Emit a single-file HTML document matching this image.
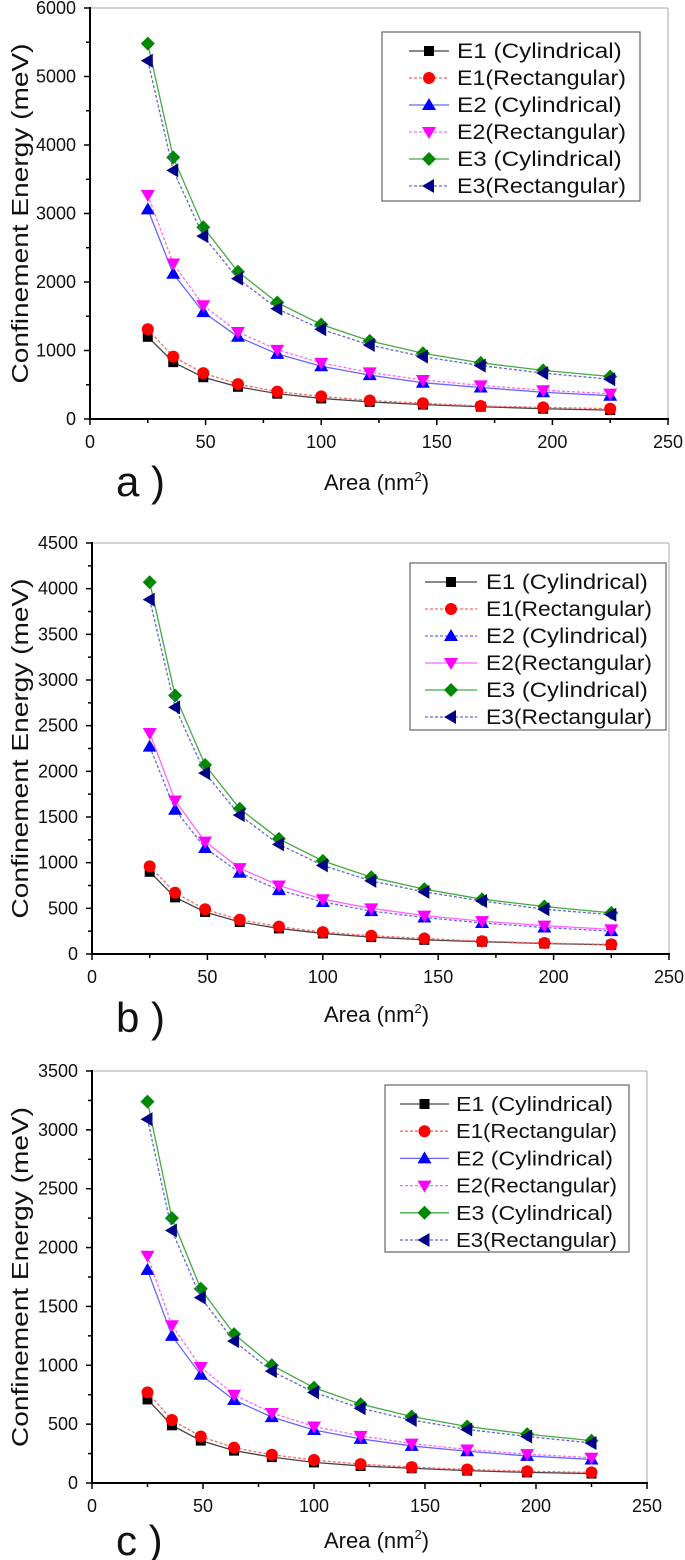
<!DOCTYPE html>
<html><head><meta charset="utf-8">
<style>
html,body{margin:0;padding:0;background:#fff;}
svg{display:block;font-family:"Liberation Sans",Arial,sans-serif;}
</style></head>
<body>
<svg id="fig" width="685" height="1560" viewBox="0 0 685 1560" xmlns="http://www.w3.org/2000/svg"></svg>
<script>
const areas = [25,36,49,64,81,100,121,144,169,196,225];
const seriesNames = ["E1 (Cylindrical)","E1(Rectangular)","E2 (Cylindrical)","E2(Rectangular)","E3 (Cylindrical)","E3(Rectangular)"];
const xTicks = [0,50,100,150,200,250];
// Panel a
const aE1Cyl = [1200,830,610,470,370,300,250,210,180,150,130];
const aE1Rect = [1310,910,670,510,400,330,270,230,190,170,150];
const aE2Cyl = [3060,2120,1560,1200,950,770,640,530,460,390,340];
const aE2Rect = [3270,2270,1660,1270,1010,820,680,570,490,420,370];
const aE3Cyl = [5480,3820,2800,2150,1700,1380,1140,960,820,710,620];
const aE3Rect = [5230,3630,2670,2050,1610,1310,1080,910,780,670,580];
const aYTicks = [0,1000,2000,3000,4000,5000,6000];
// Panel b
const bE1Cyl = [900,620,460,350,280,225,185,155,135,115,100];
const bE1Rect = [960,670,490,375,300,240,200,170,140,120,105];
const bE2Cyl = [2270,1580,1160,890,700,570,470,400,340,290,250];
const bE2Rect = [2420,1680,1230,940,750,600,500,420,360,310,270];
const bE3Cyl = [4070,2830,2070,1590,1260,1020,840,710,600,520,450];
const bE3Rect = [3880,2700,1980,1520,1200,970,800,680,580,490,430];
const bYTicks = [0,500,1000,1500,2000,2500,3000,3500,4000,4500];
// Panel c
const cE1Cyl = [710,490,360,275,220,175,145,125,105,90,80];
const cE1Rect = [770,535,395,300,240,195,160,135,115,100,90];
const cE2Cyl = [1810,1250,920,705,560,450,375,315,270,230,200];
const cE2Rect = [1930,1340,985,750,595,480,400,335,285,245,215];
const cE3Cyl = [3240,2250,1650,1265,1000,810,670,565,480,415,360];
const cE3Rect = [3090,2145,1575,1205,950,770,635,535,455,395,340];
const cYTicks = [0,500,1000,1500,2000,2500,3000,3500];

const NS="http://www.w3.org/2000/svg";
const svg=document.getElementById('fig');
function el(tag,attrs,parent){const e=document.createElementNS(NS,tag);for(const k in attrs)e.setAttribute(k,attrs[k]);(parent||svg).appendChild(e);return e;}

const colors=["#000","#f00","#00f","#f0f","#080","#008"];
const lineCols=["#444","#f66","#66f","#f6f","#4a4","#66c"];

function marker(g,type,cx,cy,col){
  let m;
  if(type===0) m=el('rect',{x:cx-5,y:cy-5,width:10,height:10,fill:col},g);
  else if(type===1) m=el('circle',{cx:cx,cy:cy,r:6,fill:col},g);
  else if(type===2) m=el('polygon',{points:`${cx},${cy-7} ${cx+7},${cy+5} ${cx-7},${cy+5}`,fill:col},g);
  else if(type===3) m=el('polygon',{points:`${cx},${cy+7} ${cx+7},${cy-5} ${cx-7},${cy-5}`,fill:col},g);
  else if(type===4) m=el('polygon',{points:`${cx},${cy-7} ${cx+7},${cy} ${cx},${cy+7} ${cx-7},${cy}`,fill:col},g);
  else m=el('polygon',{points:`${cx-7},${cy} ${cx+5},${cy-7} ${cx+5},${cy+7}`,fill:col},g);
  return m;
}

function panel(cfg){
  const {id,x0,x1,y0,y1,ymax,yTicks,minorY,series,dashed,leg,label,labelY,titleY}=cfg;
  const g=el('g',{});
  
  
  const xs=v=>x0+(v/250)*(x1-x0);
  const ys=v=>y0-(v/ymax)*(y0-y1);
  el('line',{x1:x0,y1:y1,x2:x1,y2:y1,stroke:'#aaa','stroke-width':1},g);
  el('line',{x1:x1,y1:y1,x2:x1,y2:y0,stroke:'#aaa','stroke-width':1},g);
  const ya=el('line',{x1:x0,y1:y1-1,x2:x0,y2:y0+1,stroke:'#000','stroke-width':2},g);
  
  const xa=el('line',{x1:x0-1,y1:y0,x2:x1+1,y2:y0,stroke:'#000','stroke-width':2},g);
  
  xTicks.forEach((t,i)=>{
    el('line',{x1:xs(t),y1:y0,x2:xs(t),y2:y0+6,stroke:'#000','stroke-width':1.5},g);
    if(i<xTicks.length-1) el('line',{x1:xs(t+25),y1:y0,x2:xs(t+25),y2:y0+4,stroke:'#000','stroke-width':1.5},g);
    const tx=el('text',{x:xs(t),y:y0+29,'font-size':18,'text-anchor':'middle',fill:'#111'},g);
    tx.textContent=t;
    
  });
  yTicks.forEach((t,i)=>{
    el('line',{x1:x0-6,y1:ys(t),x2:x0,y2:ys(t),stroke:'#000','stroke-width':1.5},g);
    if(i<yTicks.length-1) el('line',{x1:x0-4,y1:ys(t+minorY),x2:x0,y2:ys(t+minorY),stroke:'#000','stroke-width':1.5},g);
    const tx=el('text',{x:x0-14,y:ys(t)+6,'font-size':18,'text-anchor':'end',fill:'#111'},g);
    tx.textContent=t;
    
  });
  series.forEach((vals,si)=>{
    const sg=el('g',{},g);
    
    
    const pts=vals.map((v,i)=>xs(areas[i])+','+ys(v)).join(' ');
    const pl=el('polyline',{points:pts,fill:'none',stroke:lineCols[si],'stroke-width':1.3},sg);
    if(dashed[si]) pl.setAttribute('stroke-dasharray','3,2');
    vals.forEach((v,i)=>{
      const m=marker(sg,si,xs(areas[i]),ys(v),colors[si]);
      
      
    });
  });
  const lg=el('g',{},g);
  
  el('rect',{x:leg.x,y:leg.y,width:leg.w,height:leg.h,fill:'#fff',stroke:'#666','stroke-width':1.2},lg);
  seriesNames.forEach((n,si)=>{
    const cy=leg.y+19+si*leg.dy;
    const ll=el('line',{x1:leg.lx,y1:cy,x2:leg.lx+leg.lw,y2:cy,stroke:lineCols[si],'stroke-width':1.3},lg);
    if(dashed[si]) ll.setAttribute('stroke-dasharray','3,2');
    marker(lg,si,leg.lx+leg.lw/2,cy,colors[si]);
    const tx=el('text',{x:leg.tx,y:cy+7,'font-size':leg.fs,fill:'#111',textLength:leg.tl,lengthAdjust:'spacingAndGlyphs'},lg);
    tx.textContent=n;
    if(n.indexOf('Rect')<0) tx.setAttribute('textLength',leg.tl*0.975);
    
  });
  const yt=el('text',{x:0,y:0,'font-size':23,'text-anchor':'middle',fill:'#111',textLength:340,lengthAdjust:'spacingAndGlyphs',transform:`translate(28,${(y0+y1)/2}) rotate(-90)`},g);
  yt.textContent='Confinement Energy (meV)';
  
  const xt=el('text',{x:324,y:titleY,'font-size':22,fill:'#111'},g);
  xt.innerHTML='Area (nm<tspan dy="-9" font-size="13">2</tspan><tspan dy="9">)</tspan>';
  
  const pl=el('text',{x:116,y:labelY,'font-size':42,fill:'#111'},g);
  pl.textContent=label;
  
}

panel({id:'a',x0:90,x1:668,y0:419,y1:8,ymax:6000,yTicks:aYTicks,minorY:500,
  series:[aE1Cyl,aE1Rect,aE2Cyl,aE2Rect,aE3Cyl,aE3Rect],
  dashed:[false,true,false,true,false,true],
  leg:{x:382,y:32,w:258,h:169,dy:27,lx:409,lw:40,tx:457,fs:21,tl:169},
  label:'a )',labelY:496,titleY:490});
panel({id:'b',x0:92,x1:669,y0:954,y1:543,ymax:4500,yTicks:bYTicks,minorY:250,
  series:[bE1Cyl,bE1Rect,bE2Cyl,bE2Rect,bE3Cyl,bE3Rect],
  dashed:[false,true,true,false,false,true],
  leg:{x:410,y:563,w:256,h:167,dy:27,lx:425,lw:52,tx:486,fs:21,tl:166},
  label:'b )',labelY:1032,titleY:1022});
panel({id:'c',x0:92,x1:647,y0:1483,y1:1071,ymax:3500,yTicks:cYTicks,minorY:250,
  series:[cE1Cyl,cE1Rect,cE2Cyl,cE2Rect,cE3Cyl,cE3Rect],
  dashed:[false,true,false,true,false,true],
  leg:{x:385,y:1085,w:244,h:167,dy:27.2,lx:400,lw:49,tx:456,fs:20,tl:161},
  label:'c )',labelY:1555,titleY:1548});
</script>
</body></html>
